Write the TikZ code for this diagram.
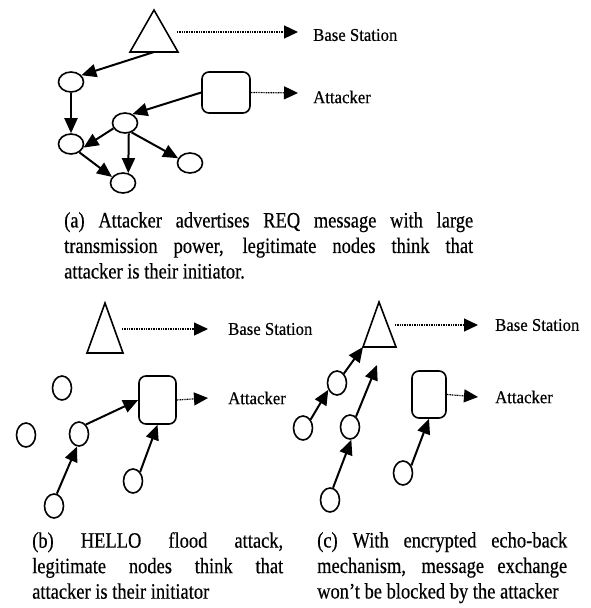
\documentclass[tikz,border=0pt]{standalone}
\usepackage{fontspec}
\setmainfont{Liberation Serif}
\newfontfamily\capfont[FakeStretch=0.84,FakeBold=0.4]{Liberation Serif}
\newfontfamily\lblfont[FakeStretch=0.93,FakeBold=0.4]{Liberation Serif}
\usetikzlibrary{arrows.meta,shapes.geometric}
\begin{document}
\begin{tikzpicture}[x=1pt,y=-1pt,
 arr/.style={-{Triangle[length=15pt,width=13pt]}, line width=2pt},
 dotarr/.style={-{Triangle[length=14pt,width=13pt]}, line width=1.2pt, dash pattern=on 1pt off 0.7pt},
 nodeA/.style={ellipse, draw, line width=1.6pt, minimum width=25pt, minimum height=20pt, inner sep=0},
 nodeB/.style={ellipse, draw, line width=1.6pt, minimum width=19pt, minimum height=24pt, inner sep=0},
 atk/.style={draw, rounded corners=7pt, line width=1.6pt, inner sep=0},
 bstri/.style={line width=1.6pt, line join=miter},
 lbl/.style={anchor=west, inner sep=0, font=\lblfont\fontsize{18}{20}\selectfont},
 captxt/.style={anchor=north west, inner sep=0, align=left, font=\capfont\fontsize{22}{25.5}\selectfont}
]
\useasboundingbox[fill=white] (0,0) rectangle (591,608);

% ---------- panel (a)
\coordinate (aT1) at (154,10);
\coordinate (aT2) at (130,52);
\coordinate (aT3) at (178,52);
\coordinate (aTb) at (154,52);
\draw[bstri] (aT1) -- (aT2) -- (aT3) -- cycle;
\node[atk, minimum width=48pt, minimum height=41pt] (aR) at (226,92.5) {};
\node[nodeA] (a1) at (71,82) {};
\node[nodeA] (a2) at (71,144) {};
\node[nodeA] (a3) at (125,123) {};
\node[nodeA] (a4) at (123,183) {};
\node[nodeA] (a5) at (190,163) {};
\coordinate (aBSs) at (177,32);
\coordinate (aBSe) at (298,32);
\coordinate (aAe) at (298,93);
\node[lbl] (aBSl) at (313,35) {Base Station};
\node[lbl] (aAl) at (313,97) {Attacker};
\draw[dotarr] (aBSs) -- (aBSe);
\draw[dotarr] (aR.east) -- (aAe);
\draw[arr] (aTb) -- (a1.33);
\draw[arr] (a1) -- (a2);
\draw[arr] (aR.west) -- (a3.50);
\draw[arr] (a3.205) -- (a2.344);
\draw[arr] (a3.290) -- (a4.62);
\draw[arr] (a3.305) -- (a5.158);
\draw[arr] (a2.315) -- (a4.151);
\node[captxt] (capA) at (64,212) {\makebox[409pt][s]{(a) Attacker advertises REQ message with large}\\\makebox[409pt][s]{transmission power, legitimate nodes think that}\\attacker is their initiator.};

% ---------- panel (b)
\coordinate (bT1) at (105,303);
\coordinate (bT2) at (87,353);
\coordinate (bT3) at (123,353);
\draw[bstri] (bT1) -- (bT2) -- (bT3) -- cycle;
\node[atk, minimum width=37pt, minimum height=48pt] (bR) at (157.5,400) {};
\node[nodeB] (b1) at (62,388) {};
\node[nodeB] (b2) at (26,435) {};
\node[nodeB] (b3) at (79,434) {};
\node[nodeB] (b4) at (54,506) {};
\node[nodeB] (b5) at (133,481) {};
\coordinate (bBSs) at (122,329);
\coordinate (bBSe) at (208,329);
\coordinate (bAe) at (208,398);
\node[lbl] (bBSl) at (228,329) {Base Station};
\node[lbl] (bAl) at (228,398) {Attacker};
\draw[dotarr] (bBSs) -- (bBSe);
\draw[dotarr] (bR.east) -- (bAe);
\draw[arr] (b3.54) -- (bR.west);
\draw[arr] (b4.77) -- (b3.261);
\draw[arr] (b5.52) -- (bR.south);
\node[captxt] (capB) at (32,532) {\makebox[251pt][s]{(b) HELLO flood attack,}\\\makebox[251pt][s]{legitimate nodes think that}\\attacker is their initiator};

% ---------- panel (c)
\coordinate (cT1) at (379,302);
\coordinate (cT2) at (363,347);
\coordinate (cT3) at (396,347);
\draw[bstri] (cT1) -- (cT2) -- (cT3) -- cycle;
\node[atk, minimum width=34pt, minimum height=47pt] (cR) at (429,394.5) {};
\node[nodeB] (c1) at (337,383) {};
\node[nodeB] (c2) at (303,428) {};
\node[nodeB] (c3) at (350,427) {};
\node[nodeB] (c4) at (330,500) {};
\node[nodeB] (c5) at (403,473) {};
\coordinate (cBSs) at (395,325);
\coordinate (cBSe) at (478,325);
\coordinate (cAe) at (478,397);
\coordinate (cfree) at (377,365);
\node[lbl] (cBSl) at (495,325) {Base Station};
\node[lbl] (cAl) at (495,397) {Attacker};
\draw[dotarr] (cBSs) -- (cBSe);
\draw[dotarr] (cR.east) -- (cAe);
\draw[arr] (c1.54) -- (cT2);
\draw[arr] (c2.48) -- (c1.218);
\draw[arr] (c3.60) -- (cfree);
\draw[arr] (c4.76) -- (c3.276);
\draw[arr] (c5.42) -- (cR.south);
\node[captxt] (capC) at (317,532) {\makebox[250pt][s]{(c) With encrypted echo-back}\\\makebox[250pt][s]{mechanism, message exchange}\\won’t be blocked by the attacker};
\end{tikzpicture}
\end{document}
